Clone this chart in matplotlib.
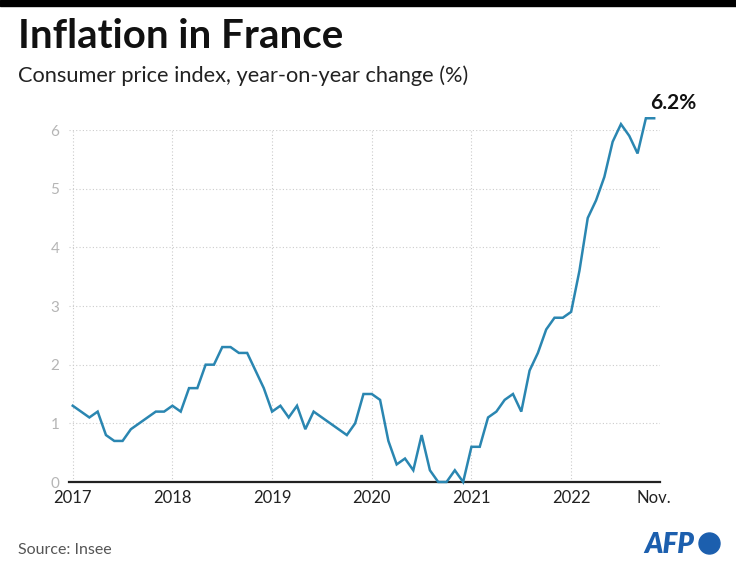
import numpy as np
import matplotlib
matplotlib.use("Agg")
import matplotlib.pyplot as plt
import matplotlib.patches as patches
import matplotlib.transforms as mtransforms

plt.rcParams['font.family'] = ['Lato', 'DejaVu Sans']

# monthly CPI y/y change, Jan 2017 .. Nov 2022
cpi_2017 = [1.3, 1.2, 1.1, 1.2, 0.8, 0.7, 0.7, 0.9, 1.0, 1.1, 1.2, 1.2]
cpi_2018 = [1.3, 1.2, 1.6, 1.6, 2.0, 2.0, 2.3, 2.3, 2.2, 2.2, 1.9, 1.6]
cpi_2019 = [1.2, 1.3, 1.1, 1.3, 0.9, 1.2, 1.1, 1.0, 0.9, 0.8, 1.0, 1.5]
cpi_2020 = [1.5, 1.4, 0.7, 0.3, 0.4, 0.2, 0.8, 0.2, 0.0, 0.0, 0.2, 0.0]
cpi_2021 = [0.6, 0.6, 1.1, 1.2, 1.4, 1.5, 1.2, 1.9, 2.2, 2.6, 2.8, 2.8]
cpi_2022 = [2.9, 3.6, 4.5, 4.8, 5.2, 5.8, 6.1, 5.9, 5.6, 6.2, 6.2]
values = cpi_2017 + cpi_2018 + cpi_2019 + cpi_2020 + cpi_2021 + cpi_2022
months = np.arange(len(values))

year_labels = ['2017', '2018', '2019', '2020', '2021', '2022']
year_pos = [0, 12, 24, 36, 48, 60]
last_label = 'Nov.'
y_ticks = [0, 1, 2, 3, 4, 5, 6]

W, H = 736, 571
fig = plt.figure(figsize=(W / 100, H / 100), dpi=100)
ax = fig.add_axes([69 / W, 1 - 482 / H, (660 - 69) / W, (482 - 130) / H])

grid_kw = dict(color='#cccccc', lw=0.8, ls=(0, (1, 2)), zorder=1)
for y in y_ticks[1:]:
    ax.axhline(y, **grid_kw)
for x in year_pos:
    ax.axvline(x, **grid_kw)

ax.plot(months, values, color='#2a86b1', lw=1.8, clip_on=False, zorder=3,
        solid_joinstyle='miter')

ax.set_xlim(-0.45, 70.7)
ax.set_ylim(0, 6)
for s in ['top', 'right', 'left']:
    ax.spines[s].set_visible(False)
ax.spines['bottom'].set_color('#222222')
ax.spines['bottom'].set_linewidth(1.6)
ax.spines['bottom'].set_zorder(2)

ax.set_yticks(y_ticks)
ax.set_yticklabels([str(v) for v in y_ticks], color='#b5b5b5', fontsize=11)
ax.set_xticks(year_pos + [len(values) - 1])
ax.set_xticklabels(year_labels + [last_label], color='#222222', fontsize=12)
ax.tick_params(axis='both', length=0)
ax.tick_params(axis='y', pad=7)
ax.tick_params(axis='x', pad=6)

ax.annotate('6.2%', xy=(len(values) - 1, values[-1]), xytext=(14, 4),
            textcoords='offset points', ha='center', va='bottom',
            fontsize=15, fontweight='bold', color='#111111',
            annotation_clip=False)

# header
fig.patches.append(patches.Rectangle((0, 1 - 6 / H), 1, 6 / H, transform=fig.transFigure,
                                     color='black'))
fig.text(18 / W, 1 - 36 / H, 'Inflation in France', fontsize=29, fontweight='bold',
         color='#111111', va='center')
fig.text(18 / W, 1 - 76 / H, 'Consumer price index, year-on-year change (%)',
         fontsize=15.7, color='#222222', va='center')

# footer
fig.text(18 / W, 1 - 550 / H, 'Source: Insee', fontsize=11.5, color='#555555', va='center')
fig.text(694 / W, 1 - 545 / H, 'AFP', fontsize=20, fontweight='heavy', fontstyle='italic',
         color='#1c5fae', ha='right', va='center')
fig.patches.append(patches.Circle((709.5, H - 543.5), 10.5,
                                  transform=mtransforms.IdentityTransform(),
                                  color='#1c5fae'))

fig.savefig('out.png', dpi=100)
